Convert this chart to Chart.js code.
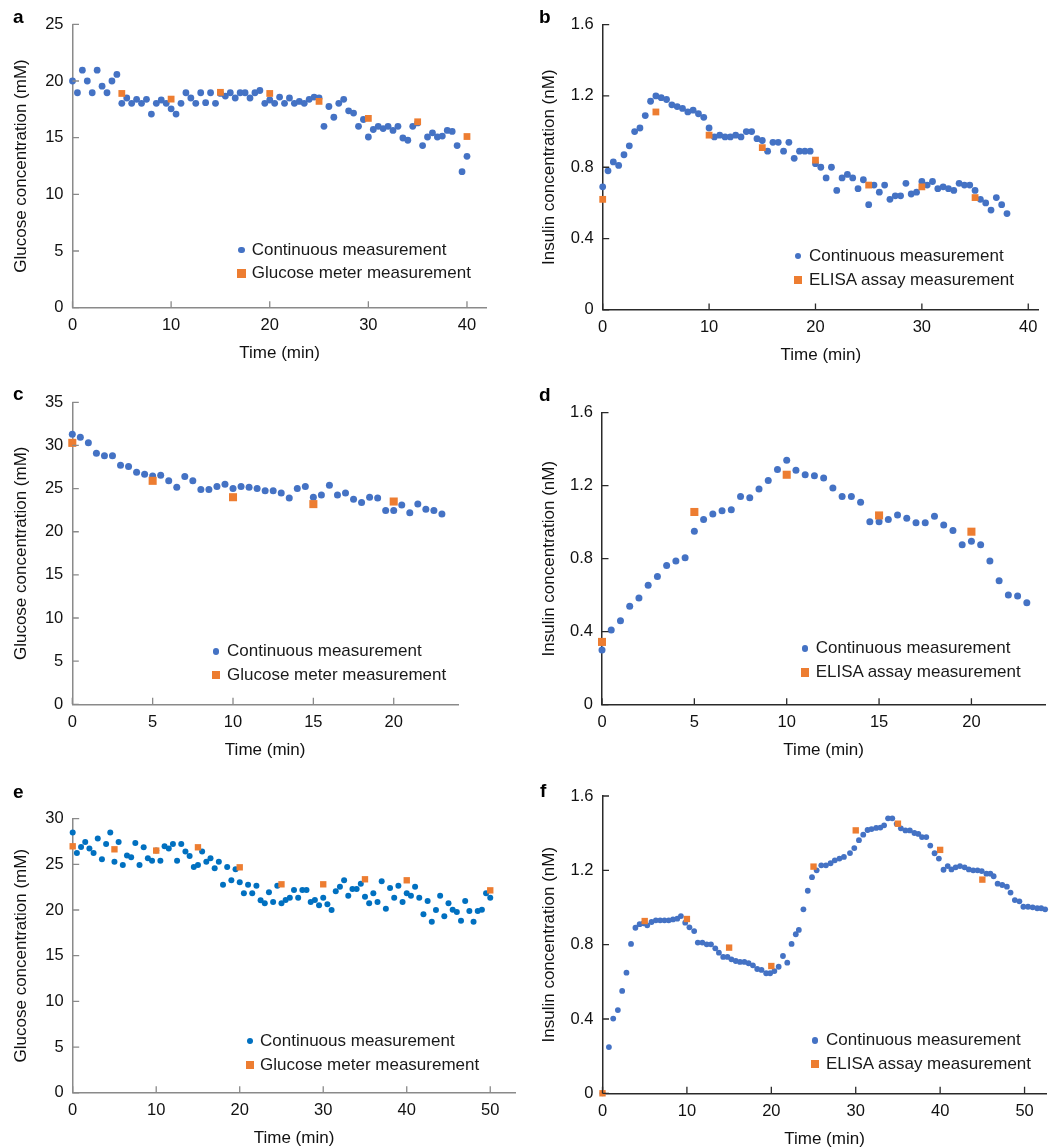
<!DOCTYPE html>
<html><head><meta charset="utf-8">
<script src="https://cdn.jsdelivr.net/npm/chart.js@4.4.1/dist/chart.umd.min.js"></script>
<style>
html,body{margin:0;padding:0;background:#fff;}
body{width:1051px;height:1147px;overflow:hidden;position:relative;font-family:"Liberation Sans",Arial,Helvetica,sans-serif;}
canvas{position:absolute;}
.lbl{position:absolute;font-weight:bold;font-size:19px;line-height:19px;color:#000;}
.leg{position:absolute;font-size:17px;line-height:20px;color:#1a1a1a;white-space:nowrap;}
.mk{position:absolute;}
</style></head><body>
<script>
// ---------- data ----------
const timeA = [0,0.5,1,1.5,2,2.5,3,3.5,4,4.5,5,5.5,6,6.5,7,7.5,8,8.5,9,9.5,10,10.5,11,11.5,12,12.5,13,13.5,14,14.5,15,15.5,16,16.5,17,17.5,18,18.5,19,19.5,20,20.5,21,21.5,22,22.5,23,23.5,24,24.5,25,25.5,26,26.5,27,27.5,28,28.5,29,29.5,30,30.5,31,31.5,32,32.5,33,33.5,34,34.5,35,35.5,36,36.5,37,37.5,38,38.5,39,39.5,40];
const glucoseA = [20.0,18.96,20.95,20.0,18.96,20.95,19.54,18.96,20.0,20.58,18.03,18.5,18.03,18.38,18.03,18.38,17.08,18.03,18.32,18.03,17.54,17.08,18.03,18.96,18.5,18.03,18.96,18.09,18.96,18.03,18.9,18.67,18.96,18.5,18.96,18.96,18.5,18.96,19.16,18.03,18.32,18.03,18.58,18.03,18.5,18.03,18.2,18.03,18.38,18.58,18.5,16.0,17.75,16.8,18.03,18.38,17.37,17.17,16.0,16.6,15.06,15.72,16.0,15.8,16.0,15.64,16.0,14.97,14.77,16.0,16.3,14.3,15.06,15.43,15.06,15.14,15.64,15.55,14.3,12.0,13.35];
const meterTimeA = [5,10,15,20,25,30,35,40];
const meterA = [18.9,18.4,19.0,18.9,18.2,16.7,16.4,15.1];

const timeB = [0,0.5,1,1.5,2,2.5,3,3.5,4,4.5,5,5.5,6,6.5,7,7.5,8,8.5,9,9.5,10,10.5,11,11.5,12,12.5,13,13.5,14,14.5,15,15.5,16,16.5,17,17.5,18,18.5,19,19.5,20,20.5,21,21.5,22,22.5,23,23.5,24,24.5,25,25.5,26,26.5,27,27.5,28,28.5,29,29.5,30,30.5,31,31.5,32,32.5,33,33.5,34,34.5,35,35.5,36,36.5,37,37.5,38];
const insulinB = [0.69,0.78,0.83,0.81,0.87,0.92,1.00,1.02,1.09,1.17,1.20,1.19,1.18,1.15,1.14,1.13,1.11,1.12,1.10,1.08,1.02,0.97,0.98,0.97,0.97,0.98,0.97,1.00,1.00,0.96,0.95,0.89,0.94,0.94,0.89,0.94,0.85,0.89,0.89,0.89,0.82,0.80,0.74,0.80,0.67,0.74,0.76,0.74,0.68,0.73,0.59,0.70,0.66,0.70,0.62,0.64,0.64,0.71,0.65,0.66,0.72,0.70,0.72,0.68,0.69,0.68,0.67,0.71,0.70,0.70,0.67,0.62,0.60,0.56,0.63,0.59,0.54];
const elisaTimeB = [0,5,10,15,20,25,30,35];
const elisaB = [0.62,1.11,0.98,0.91,0.84,0.70,0.69,0.63];

const timeC = [0,0.5,1,1.5,2,2.5,3,3.5,4,4.5,5,5.5,6,6.5,7,7.5,8,8.5,9,9.5,10,10.5,11,11.5,12,12.5,13,13.5,14,14.5,15,15.5,16,16.5,17,17.5,18,18.5,19,19.5,20,20.5,21,21.5,22,22.5,23];
const glucoseC = [31.3,30.95,30.3,29.1,28.8,28.8,27.7,27.55,26.9,26.65,26.45,26.55,25.9,25.15,26.4,25.9,24.9,24.9,25.25,25.5,25.0,25.25,25.15,25.0,24.75,24.75,24.5,23.9,25.0,25.25,24.0,24.25,25.4,24.25,24.5,23.75,23.4,24.0,23.9,22.45,22.45,23.1,22.2,23.2,22.6,22.45,22.05];
const meterTimeC = [0,5,10,15,20];
const meterC = [30.3,25.9,24.0,23.2,23.5];

const timeD = [0,0.5,1,1.5,2,2.5,3,3.5,4,4.5,5,5.5,6,6.5,7,7.5,8,8.5,9,9.5,10,10.5,11,11.5,12,12.5,13,13.5,14,14.5,15,15.5,16,16.5,17,17.5,18,18.5,19,19.5,20,20.5,21,21.5,22,22.5,23];
const insulinD = [0.30,0.41,0.46,0.54,0.585,0.654,0.703,0.763,0.787,0.805,0.95,1.015,1.045,1.063,1.068,1.141,1.134,1.182,1.229,1.289,1.339,1.284,1.26,1.255,1.242,1.187,1.141,1.141,1.11,1.003,1.003,1.015,1.039,1.021,0.997,0.997,1.032,0.985,0.955,0.877,0.895,0.877,0.787,0.679,0.601,0.596,0.559];
const elisaTimeD = [0,5,10,15,20];
const elisaD = [0.344,1.056,1.26,1.037,0.948];

const timeE = [0,0.5,1,1.5,2,2.5,3,3.5,4,4.5,5,5.5,6,6.5,7,7.5,8,8.5,9,9.5,10,10.5,11,11.5,12,12.5,13,13.5,14,14.5,15,15.5,16,16.5,17,17.5,18,18.5,19,19.5,20,20.5,21,21.5,22,22.5,23,23.5,24,24.5,25,25.5,26,26.5,27,27.5,28,28.5,29,29.5,30,30.5,31,31.5,32,32.5,33,33.5,34,34.5,35,35.5,36,36.5,37,37.5,38,38.5,39,39.5,40,40.5,41,41.5,42,42.5,43,43.5,44,44.5,45,45.5,46,46.5,47,47.5,48,48.5,49,49.5,50];
const glucoseE = [28.47,26.24,26.9,27.45,26.72,26.24,27.81,25.55,27.23,28.47,25.29,27.45,24.93,25.95,25.77,27.34,24.93,26.86,25.66,25.4,26.5,25.4,26.97,26.72,27.23,25.4,27.23,26.39,25.91,24.71,24.93,26.39,25.29,25.66,24.56,25.29,22.77,24.71,23.25,24.45,23.03,21.82,22.77,21.82,22.66,21.06,20.73,21.93,20.88,22.66,20.73,21.09,21.35,22.19,21.35,22.19,22.19,20.88,21.09,20.51,21.35,20.62,20.0,22.04,22.55,23.25,21.57,22.3,22.3,22.88,21.46,20.73,21.82,20.88,23.14,20.15,22.41,21.35,22.66,20.88,21.82,21.57,22.55,21.35,19.53,20.99,18.72,20.0,21.57,19.31,20.73,20.04,19.78,18.83,20.99,19.89,18.72,19.89,20.04,21.82,21.35];
const meterTimeE = [0,5,10,15,20,25,30,35,40,50];
const meterE = [26.97,26.64,26.5,26.86,24.67,22.81,22.81,23.36,23.25,22.15];

const timeF = [0,0.76,1.27,1.82,2.33,2.84,3.38,3.9,4.4,4.85,5.3,5.81,6.32,6.83,7.34,7.84,8.35,8.86,9.29,9.8,10.3,10.86,11.29,11.83,12.35,12.85,13.36,13.79,14.3,14.81,15.28,15.79,16.29,16.81,17.31,17.82,18.33,18.84,19.39,19.86,20.36,20.87,21.38,21.89,22.4,22.9,23.26,23.8,24.32,24.82,25.37,25.92,26.47,27.02,27.52,28.07,28.6,29.32,29.83,30.38,30.89,31.4,31.87,32.42,32.92,33.36,33.83,34.33,34.85,35.35,35.89,36.41,36.95,37.42,37.85,38.36,38.83,39.34,39.85,40.4,40.9,41.34,41.84,42.35,42.9,43.4,43.92,44.43,44.93,45.48,45.95,46.34,46.81,47.36,47.91,48.34,48.85,49.39,49.86,50.41,50.96,51.5,51.97,52.44];
const insulinF = [0,0.249,0.402,0.448,0.551,0.649,0.804,0.891,0.91,0.915,0.904,0.922,0.931,0.931,0.931,0.931,0.936,0.94,0.954,0.918,0.893,0.873,0.811,0.811,0.802,0.802,0.78,0.757,0.734,0.734,0.721,0.712,0.707,0.707,0.7,0.689,0.669,0.664,0.646,0.646,0.658,0.681,0.739,0.703,0.804,0.856,0.879,0.99,1.09,1.163,1.2,1.227,1.227,1.238,1.254,1.263,1.272,1.293,1.32,1.362,1.392,1.417,1.422,1.428,1.43,1.442,1.48,1.48,1.45,1.426,1.415,1.415,1.401,1.396,1.379,1.379,1.333,1.292,1.263,1.203,1.223,1.205,1.216,1.223,1.216,1.205,1.2,1.2,1.196,1.182,1.182,1.168,1.128,1.121,1.112,1.08,1.04,1.033,1.004,1.004,1.001,0.996,0.996,0.99];
const elisaTimeF = [0,5,10,15,20,25,30,35,40,45];
const elisaF = [0,0.927,0.938,0.784,0.685,1.22,1.415,1.451,1.31,1.15];

// tick labels
const ticksTime40 = [0,10,20,30,40];
const ticksTime20 = [0,5,10,15,20];
const ticksTime50 = [0,10,20,30,40,50];
const ticksGlucoseA = [0,5,10,15,20,25];
const ticksGlucoseC = [0,5,10,15,20,25,30,35];
const ticksGlucoseE = [0,5,10,15,20,25,30];
const ticksInsulin = [0,0.4,0.8,1.2,1.6];

// ---------- drawing ----------
const FONT = "'Liberation Sans', Arial, Helvetica, sans-serif";
const BLUE = '#4472C4', BLUE_E = '#0070C0', ORANGE = '#ED7D31';
const GRAY_AXIS = '#8a8a8a', DARK_AXIS = '#2a2a2a';

function innerTicksPlugin(color){
  return {id:'innerTicks', afterDraw(chart){
    const ctx = chart.ctx, xs = chart.scales.x, ys = chart.scales.y, a = chart.chartArea;
    ctx.save(); ctx.strokeStyle = color; ctx.lineWidth = 1.3;
    ctx.beginPath();
    xs.ticks.forEach(t=>{ const x = xs.getPixelForValue(t.value); ctx.moveTo(x, a.bottom); ctx.lineTo(x, a.bottom-6.5); });
    ys.ticks.forEach(t=>{ const y = ys.getPixelForValue(t.value); ctx.moveTo(a.left, y); ctx.lineTo(a.left+6.5, y); });
    ctx.stroke(); ctx.restore();
  }};
}

function panel(o){
  const c = document.createElement('canvas');
  const cw = Math.round(o.cw), ch = Math.round(o.ch);
  c.width = cw; c.height = ch;
  c.style.left = o.cx+'px'; c.style.top = o.cy+'px';
  document.body.appendChild(c);
  const yW = o.plotLeft - o.cx, xH = o.cy + ch - o.plotBottom;
  new Chart(c, {
    type:'scatter',
    data:{datasets:[
      {data:o.t.map((x,i)=>({x:x,y:o.v[i]})), backgroundColor:o.blue, pointRadius:o.r, pointHoverRadius:o.r, borderWidth:0, pointBorderWidth:0, clip:false, order:2},
      {data:o.mt.map((x,i)=>({x:x,y:o.mv[i]})), backgroundColor:ORANGE, pointStyle:'rect', pointRadius:o.rs, pointHoverRadius:o.rs, borderWidth:0, pointBorderWidth:0, clip:false, order:1}
    ]},
    options:{
      responsive:false, animation:false, events:[],
      layout:{padding:{top:o.plotTop-o.cy, right:o.cx+cw-o.plotRight, left:0, bottom:0}},
      plugins:{legend:{display:false}, tooltip:{enabled:false}},
      scales:{
        x:{type:'linear', position:'bottom', min:0, max:o.xmax,
          grid:{display:false, drawTicks:false},
          border:{display:true, color:o.axis, width:1.5},
          ticks:{padding:8, color:'#111', font:{family:FONT, size:16.5}, maxRotation:0, callback:v=>String(v)},
          afterBuildTicks:s=>{ s.ticks = o.xt.map(v=>({value:v})); },
          afterFit:s=>{ s.height = xH; },
          title:{display:true, text:'Time (min)', color:'#111', font:{family:FONT, size:17}, padding:{top:4, bottom:6}}
        },
        y:{type:'linear', position:'left', min:0, max:o.ymax,
          grid:{display:false, drawTicks:false},
          border:{display:true, color:o.axis, width:1.5},
          ticks:{padding:9, color:'#111', font:{family:FONT, size:16.5}, callback:v=>String(v)},
          afterBuildTicks:s=>{ s.ticks = o.yt.map(v=>({value:v})); },
          afterFit:s=>{ s.width = yW; },
          title:{display:true, text:o.ytitle, color:'#111', font:{family:FONT, size:17}, padding:{top:8, bottom:4}}
        }
      }
    },
    plugins:[innerTicksPlugin(o.axis)]
  });
  // legend (HTML text)
  const L = o.legend;
  const d = document.createElement('div'); d.className='mk';
  d.style.cssText = `left:${L.x-3.4}px;top:${L.y1-3.4}px;width:6.8px;height:6.8px;border-radius:50%;background:${o.blue};`;
  document.body.appendChild(d);
  const s = document.createElement('div'); s.className='mk';
  s.style.cssText = `left:${L.x-4.3}px;top:${L.y2-4.3}px;width:8.6px;height:8.6px;background:${ORANGE};`;
  document.body.appendChild(s);
  [[L.t1,L.y1],[L.t2,L.y2]].forEach(([txt,y])=>{
    const e = document.createElement('div'); e.className='leg';
    e.style.left = L.tx+'px'; e.style.top = (y-10.5)+'px'; e.textContent = txt;
    document.body.appendChild(e);
  });
  const lb = document.createElement('div'); lb.className='lbl';
  lb.style.left = o.letter[1]+'px'; lb.style.top = o.letter[2]+'px'; lb.textContent = o.letter[0];
  document.body.appendChild(lb);
}

const GT = 'Glucose concentration (mM)', IT = 'Insulin concentration (nM)';
const LC = 'Continuous measurement', LG = 'Glucose meter measurement', LE = 'ELISA assay measurement';

panel({cx:3, cy:0, cw:500, ch:307.7+62.2, plotLeft:72.5, plotTop:24.3, plotRight:486.7, plotBottom:307.7,
  xmax:42, ymax:25, xt:ticksTime40, yt:ticksGlucoseA, ytitle:GT, axis:GRAY_AXIS, blue:BLUE, r:3.4, rs:4.8,
  t:timeA, v:glucoseA, mt:meterTimeA, mv:meterA,
  legend:{x:241.3, y1:250, y2:273.3, tx:251.7, t1:LC, t2:LG}, letter:['a',13,7]});

panel({cx:531, cy:0, cw:520, ch:309.9+62.2, plotLeft:602.7, plotTop:24.6, plotRight:1038.9, plotBottom:309.9,
  xmax:41, ymax:1.6, xt:ticksTime40, yt:ticksInsulin, ytitle:IT, axis:DARK_AXIS, blue:BLUE, r:3.4, rs:4.8,
  t:timeB, v:insulinB, mt:elisaTimeB, mv:elisaB,
  legend:{x:798, y1:256, y2:280, tx:809, t1:LC, t2:LE}, letter:['b',539,7]});

panel({cx:3, cy:380, cw:480, ch:704.3+62.2-380, plotLeft:72.3, plotTop:402.3, plotRight:458, plotBottom:704.3,
  xmax:24, ymax:35, xt:ticksTime20, yt:ticksGlucoseC, ytitle:GT, axis:GRAY_AXIS, blue:BLUE, r:3.5, rs:5.7,
  t:timeC, v:glucoseC, mt:meterTimeC, mv:meterC,
  legend:{x:216, y1:651.7, y2:675, tx:227, t1:LC, t2:LG}, letter:['c',13,384]});

panel({cx:531, cy:380, cw:520, ch:704.7+62.2-380, plotLeft:602, plotTop:412.7, plotRight:1047.7, plotBottom:704.7,
  xmax:24, ymax:1.6, xt:ticksTime20, yt:ticksInsulin, ytitle:IT, axis:DARK_AXIS, blue:BLUE, r:3.5, rs:5.7,
  t:timeD, v:insulinD, mt:elisaTimeD, mv:elisaD,
  legend:{x:805, y1:648.7, y2:672.3, tx:815.7, t1:LC, t2:LE}, letter:['d',539,385]});

panel({cx:3, cy:775, cw:530, ch:1092.8+62.2-775, plotLeft:72.7, plotTop:818.6, plotRight:515.3, plotBottom:1092.8,
  xmax:53, ymax:30, xt:ticksTime50, yt:ticksGlucoseE, ytitle:GT, axis:GRAY_AXIS, blue:BLUE_E, r:3.0, rs:4.5,
  t:timeE, v:glucoseE, mt:meterTimeE, mv:meterE,
  legend:{x:250, y1:1041, y2:1065, tx:260, t1:LC, t2:LG}, letter:['e',13,782]});

panel({cx:531, cy:770, cw:520, ch:1093.3+62.2-770, plotLeft:602.5, plotTop:796, plotRight:1050.7, plotBottom:1093.3,
  xmax:52.6, ymax:1.6, xt:ticksTime50, yt:ticksInsulin, ytitle:IT, axis:DARK_AXIS, blue:BLUE, r:2.9, rs:4.5,
  t:timeF, v:insulinF, mt:elisaTimeF, mv:elisaF,
  legend:{x:815, y1:1040.7, y2:1064, tx:826, t1:LC, t2:LE}, letter:['f',540,781]});
</script>
</body></html>
